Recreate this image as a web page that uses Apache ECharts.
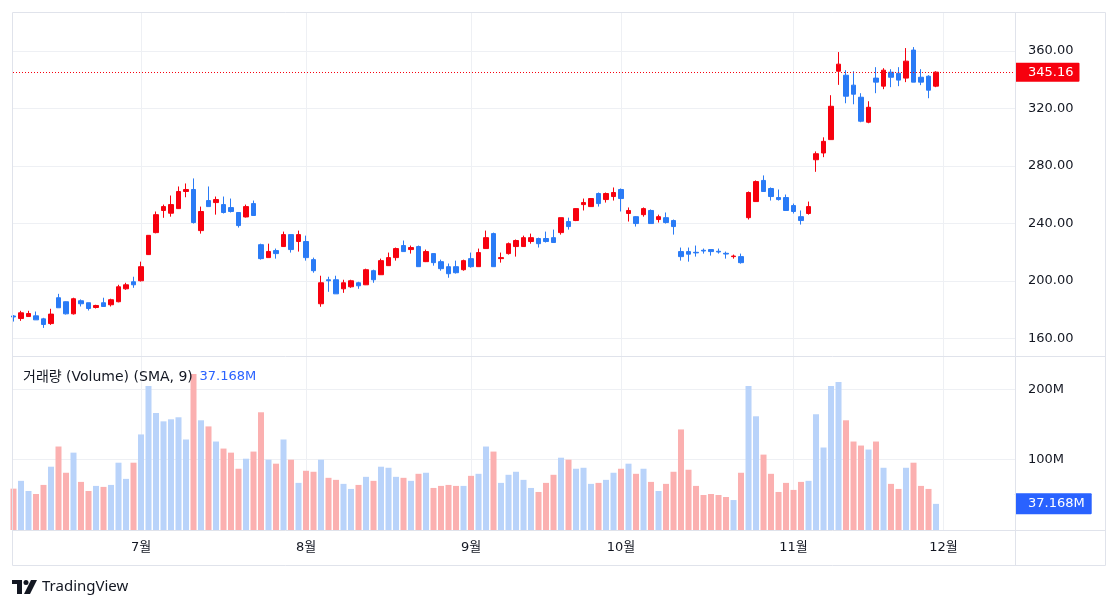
<!DOCTYPE html>
<html>
<head>
<meta charset="utf-8">
<script src="https://cdn.jsdelivr.net/npm/echarts@6/dist/echarts.min.js"></script>
<style>
  html, body { margin: 0; padding: 0; background: #fff; }
  #chart { width: 1118px; height: 609px; }
</style>
</head>
<body>
<div id="chart"></div>
<script>
// 일봉 OHLC (index 0 = 첫 캔들)
const open = [175.5,173.7,175.1,175.6,173.5,170.2,188.2,185.4,177.0,186.1,184.7,181.4,184.7,183.3,185.4,194.4,199.3,
  200.0,218.2,233.5,248.9,247.0,250.2,262.1,263.5,234.9,255.8,254.4,253.0,250.9,247.5,244.4,253.7,225.1,216.1,221.0,223.8,232.1,227.3,
  227.3,214.7,184.0,200.7,200.7,194.4,195.8,198.6,197.2,207.0,204.2,210.5,216.1,224.5,221.7,223.8,213.3,218.9,213.3,209.8,209.8,207.7,
  215.4,209.8,222.4,232.8,215.4,218.9,223.8,223.8,227.3,229.4,229.4,230.0,233.5,241.2,241.9,253.0,251.6,260.7,256.5,258.6,
  263.5,246.8,244.6,246.0,248.9,242.6,243.9,241.9,220.3,220.3,219.8,221.2,221.7,220.5,219.1,216.8,216.8,243.9,255.1,269.8,264.2,257.9,257.9,
  252.3,244.6,246.8,284.2,288.9,298.2,345.8,343.0,336.1,327.7,310.3,341.0,335.4,345.1,344.4,341.0,360.5,341.6,342.3,335.4];
const high = [176.1,179.1,179.1,178.6,174.2,180.5,190.9,185.6,188.2,187.0,184.7,183.3,188.2,187.5,197.2,198.6,202.8,
  213.3,231.8,248.2,253.0,259.3,265.6,267.7,271.2,251.6,265.6,258.6,258.6,257.2,247.5,253.0,255.8,225.8,225.8,222.4,234.2,232.1,234.9,
  231.4,216.1,203.5,202.8,203.5,200.7,200.7,199.3,208.4,207.7,215.4,219.6,223.1,228.0,224.5,224.5,221.7,219.0,214.7,212.0,214.0,214.7,
  219.6,222.4,234.9,233.5,219.6,226.6,228.7,231.4,232.8,230.0,234.2,235.6,243.9,243.9,250.5,257.2,257.5,261.4,261.4,264.9,
  264.2,251.0,245.0,251.0,249.6,246.0,247.5,242.6,223.1,223.1,224.5,222.4,221.7,222.4,220.3,218.2,218.9,262.1,269.8,273.3,264.9,263.5,260.0,
  253.7,248.9,255.1,290.0,299.8,329.1,359.1,346.5,345.8,330.5,324.9,348.6,347.9,347.2,348.6,361.9,362.6,347.2,343.0,345.8];
const low = [171.6,172.1,175.0,172.8,167.2,169.3,181.2,176.5,176.5,182.1,179.3,180.7,182.1,182.1,185.0,193.7,195.1,
  199.5,218.0,233.0,243.8,244.6,250.0,258.1,239.8,232.8,251.6,246.0,246.8,247.5,237.0,244.0,245.4,214.7,216.0,215.4,223.5,219.6,220.3,
  214.0,205.6,181.9,192.3,190.9,191.6,195.1,194.4,197.0,198.6,204.0,210.3,214.0,220.3,218.9,209.8,213.0,210.5,207.0,202.1,205.0,207.0,
  209.1,209.8,222.2,209.8,212.6,218.2,216.8,223.6,225.8,223.1,226.6,226.6,232.1,235.6,241.5,248.9,251.5,251.6,254.4,255.8,
  248.2,241.2,237.7,244.6,239.8,240.5,239.8,232.1,214.0,213.3,216.8,218.9,217.5,218.9,215.4,215.4,211.9,242.6,255.0,262.1,255.8,255.8,248.9,
  246.8,239.1,246.0,275.8,286.0,298.0,336.3,323.5,322.8,310.3,309.6,330.5,333.3,334.7,335.4,338.2,338.2,336.1,327.0,334.7];
const close = [174.8,177.7,177.2,172.8,169.6,176.8,181.2,177.0,187.5,184.0,180.7,182.8,182.1,186.8,195.8,197.2,197.2,
  209.8,231.6,246.0,251.6,253.0,262.1,263.5,240.5,248.2,251.6,256.5,247.5,248.2,238.4,251.6,245.4,215.4,220.4,218.9,232.1,221.7,232.1,
  216.1,207.0,198.6,200.0,190.9,198.6,200.0,196.5,207.7,200.7,214.0,216.1,222.4,220.3,223.1,209.8,220.3,212.6,208.4,204.9,205.6,214.0,
  209.8,219.6,230.0,209.8,216.1,225.8,228.0,230.0,230.0,225.8,227.3,226.6,243.9,237.7,250.2,254.4,257.2,253.7,260.7,261.4,
  257.2,248.9,239.8,250.2,239.8,244.6,240.5,237.7,216.8,218.5,219.4,220.7,220.3,220.0,218.6,217.2,212.6,261.4,269.0,262.1,258.6,256.5,248.9,
  248.2,241.9,251.6,288.4,297.0,321.4,350.7,328.4,329.8,311.0,320.7,338.2,346.5,341.6,339.6,352.8,338.2,338.2,332.6,345.16];
// 거래량 (백만)
const volume = [58.8,69.9,55.5,51.2,64.1,90.0,118.7,81.4,110.0,68.4,55.5,62.7,61.3,64.1,95.7,72.7,95.7,
  135.9,204.7,166.4,154.5,157.4,160.3,128.7,221.9,156.0,147.3,125.8,115.8,110.0,87.1,101.4,111.5,167.4,100.0,94.3,128.7,100.0,67.0,
  84.2,82.8,100.0,74.2,71.3,65.6,58.4,64.1,75.6,69.9,90.0,88.5,75.6,74.2,69.9,79.9,81.4,59.8,62.7,64.1,62.7,62.7,
  77.0,79.9,118.7,111.5,67.0,78.5,82.8,71.3,59.8,54.1,67.0,78.5,102.8,100.0,87.1,88.5,65.6,67.0,71.3,81.4,
  87.1,94.3,79.9,87.1,68.4,55.5,65.6,82.8,143.0,85.7,62.7,49.8,51.2,49.8,46.9,42.6,81.4,204.7,161.7,107.2,79.9,54.1,67.0,
  57.0,68.4,69.9,164.6,117.3,204.7,210.5,156.0,125.8,120.1,114.4,125.8,88.5,65.6,58.4,88.5,95.7,62.7,58.4,37.168];

const monthIdx = [17, 39, 61, 81, 104, 124];
const monthLabels = ['7월', '8월', '9월', '10월', '11월', '12월'];
const priceTicks = [160, 200, 240, 280, 320, 360];
const volumeTicks = [100, 200];
const lastPrice = 345.16;
const lastVolume = 37.168;

const UP = '#f7000e';
const DOWN = '#2a7bf6';
const VOL_UP = '#b9d3fa';
const VOL_DOWN = '#fbb0b0';
const TEXT = '#131722';
const GRID = '#eef0f4';
const FRAME = '#e0e3eb';
const FONT = "'DejaVu Sans', 'Noto Sans CJK KR', sans-serif";

const candles = open.map((o, i) => [i, o, close[i], low[i], high[i]]);
const volBars = volume.map((v, i) => ({
    value: [i, v],
    itemStyle: { color: close[i] >= open[i] ? VOL_UP : VOL_DOWN }
}));

const xMin = -0.0667;
const xMax = 133.53;

let chart = echarts.init(document.getElementById('chart'));

let option = {
    animation: false,
    backgroundColor: '#fff',
    textStyle: { fontFamily: FONT },
    grid: [
        { left: 13, right: 103, top: 13, height: 343 },
        { left: 13, right: 103, top: 357, height: 173 }
    ],
    xAxis: [
        {
            type: 'value', gridIndex: 0, min: xMin, max: xMax,
            axisLine: { show: false },
            axisTick: { show: false, customValues: monthIdx },
            axisLabel: { show: false, customValues: monthIdx },
            splitLine: { show: true, lineStyle: { color: GRID } }
        },
        {
            type: 'value', gridIndex: 1, min: xMin, max: xMax,
            axisLine: { show: false },
            axisTick: { show: false, customValues: monthIdx },
            axisLabel: {
                customValues: monthIdx,
                color: TEXT, fontSize: 13, margin: 11, fontFamily: FONT,
                formatter: v => {
                    let i = monthIdx.indexOf(Math.round(v))
                    return i >= 0 ? monthLabels[i] : ''
                }
            },
            splitLine: { show: true, lineStyle: { color: GRID } }
        }
    ],
    yAxis: [
        {
            type: 'value', gridIndex: 0, position: 'right',
            min: 147.65, max: 386.3,
            axisLine: { show: false },
            axisTick: { show: false, customValues: priceTicks },
            axisLabel: {
                customValues: priceTicks,
                color: TEXT, fontSize: 13, margin: 13, fontFamily: FONT,
                formatter: v => v.toFixed(2)
            },
            splitLine: { show: true, lineStyle: { color: GRID } }
        },
        {
            type: 'value', gridIndex: 1, position: 'right',
            min: 0, max: 246,
            axisLine: { show: false },
            axisTick: { show: false, customValues: volumeTicks },
            axisLabel: {
                customValues: volumeTicks,
                color: TEXT, fontSize: 13, margin: 13, fontFamily: FONT,
                formatter: v => v + 'M'
            },
            splitLine: { show: true, lineStyle: { color: GRID } }
        }
    ],
    series: [
        {
            type: 'candlestick',
            xAxisIndex: 0, yAxisIndex: 0,
            barWidth: 5,
            encode: { x: 0, y: [1, 2, 3, 4] },
            data: candles,
            itemStyle: {
                color: UP, color0: DOWN,
                borderColor: UP, borderColor0: DOWN,
                borderColorDoji: UP,
                borderWidth: 1
            },
            markLine: {
                silent: true,
                symbol: 'none',
                lineStyle: { color: UP, type: [1, 2], width: 1 },
                label: {
                    show: true, position: 'end', distance: 0,
                    formatter: lastPrice.toFixed(2),
                    color: '#fff', backgroundColor: UP,
                    fontSize: 13, fontFamily: FONT,
                    padding: [3, 6, 3, 13], borderRadius: 1
                },
                data: [{ yAxis: lastPrice }]
            }
        },
        {
            type: 'bar',
            xAxisIndex: 1, yAxisIndex: 1,
            barWidth: 6,
            data: volBars,
            markLine: {
                silent: true,
                symbol: 'none',
                lineStyle: { color: 'rgba(0,0,0,0)', width: 1 },
                label: {
                    show: true, position: 'end', distance: 0,
                    formatter: lastVolume + 'M',
                    color: '#fff', backgroundColor: '#2962ff',
                    fontSize: 13, fontFamily: FONT,
                    padding: [4, 7, 4, 13], borderRadius: 1
                },
                data: [{ yAxis: lastVolume }]
            }
        }
    ],
    graphic: [
        { type: 'rect', shape: { x: 12.5, y: 12.5, width: 1093, height: 553 }, style: { fill: 'none', stroke: FRAME, lineWidth: 1 }, z: 100 },
        { type: 'line', shape: { x1: 1015.5, y1: 12, x2: 1015.5, y2: 566 }, style: { stroke: FRAME, lineWidth: 1 }, z: 100 },
        { type: 'line', shape: { x1: 12, y1: 356.5, x2: 1106, y2: 356.5 }, style: { stroke: FRAME, lineWidth: 1 }, z: 100 },
        { type: 'line', shape: { x1: 12, y1: 530.5, x2: 1106, y2: 530.5 }, style: { stroke: FRAME, lineWidth: 1 }, z: 100 },
        {
            type: 'text', left: 23, top: 370, z: 100,
            style: {
                text: '{a|거래량 (Volume) (SMA, 9)}  {b|' + lastVolume + 'M}',
                rich: {
                    a: { fill: TEXT, fontSize: 14, fontFamily: FONT },
                    b: { fill: '#2962ff', fontSize: 13, fontFamily: FONT }
                }
            }
        },
        // TradingView 로고
        { type: 'rect', shape: { x: 12, y: 580, width: 10, height: 4 }, style: { fill: TEXT } },
        { type: 'rect', shape: { x: 17, y: 580, width: 5, height: 14 }, style: { fill: TEXT } },
        { type: 'circle', shape: { cx: 26, cy: 582.5, r: 2.5 }, style: { fill: TEXT } },
        { type: 'polygon', shape: { points: [[31, 580], [37, 580], [30, 594], [24, 594]] }, style: { fill: TEXT } },
        {
            type: 'text', left: 42, top: 579,
            style: { text: 'TradingView', fill: TEXT, fontSize: 15, fontFamily: "'Noto Sans', sans-serif" }
        }
    ]
}

chart.setOption(option)
</script>
</body>
</html>
